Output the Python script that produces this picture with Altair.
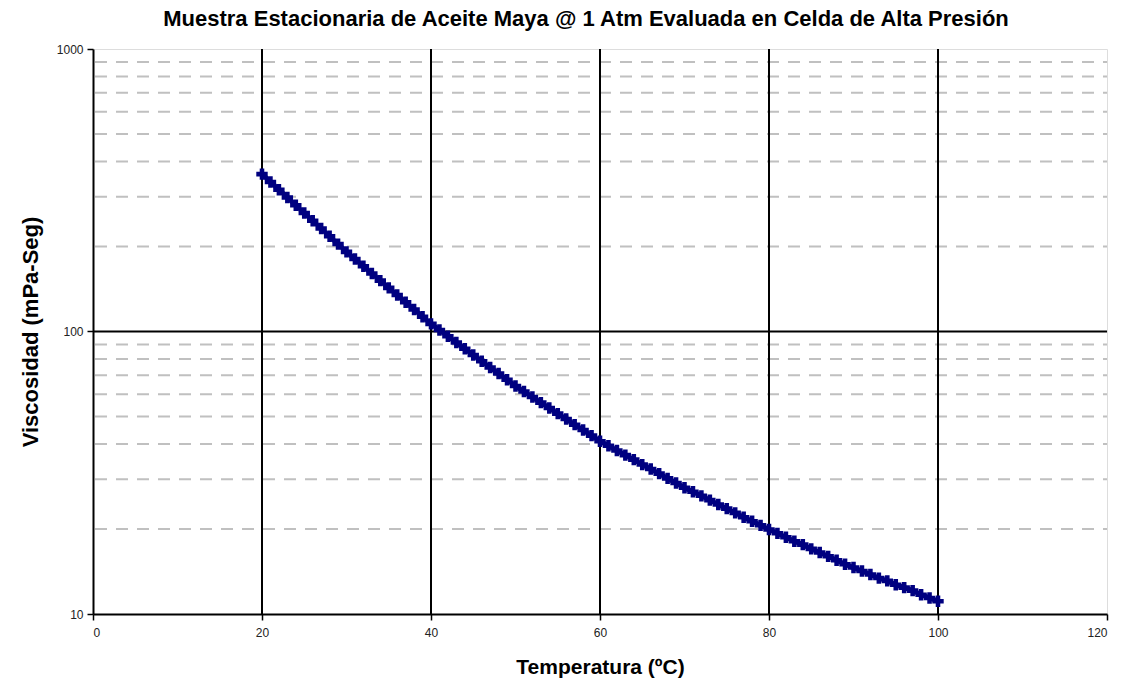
import altair as alt
import pandas as pd

temperature = list(range(20, 101))
viscosity = [
    360.6, 338.4, 317.7, 298.2, 279.9, 262.7, 246.6, 231.5, 217.3, 203.9,
    191.4, 180.5, 170.2, 160.5, 151.4, 142.7, 134.6, 126.9, 119.7, 112.8,
    106.4, 101.2, 96.2, 91.4, 86.9, 82.6, 78.5, 74.6, 71.0, 67.5,
    64.1, 61.3, 58.6, 56.0, 53.6, 51.2, 49.0, 46.8, 44.8, 42.8,
    40.9, 39.4, 37.9, 36.5, 35.2, 33.8, 32.6, 31.4, 30.2, 29.1,
    28.0, 27.1, 26.2, 25.3, 24.4, 23.6, 22.8, 22.0, 21.3, 20.6,
    19.9, 19.3, 18.7, 18.1, 17.6, 17.0, 16.5, 16.0, 15.5, 15.0,
    14.6, 14.2, 13.8, 13.4, 13.1, 12.7, 12.4, 12.1, 11.7, 11.4,
    11.1,
]
x_ticks = [0, 20, 40, 60, 80, 100, 120]
x_major_grid = [20, 40, 60, 80, 100]
y_ticks = [10, 100, 1000]
y_major_grid = [100]
y_minor_grid = [20, 30, 40, 50, 60, 70, 80, 90, 200, 300, 400, 500, 600, 700, 800, 900]

title_text = "Muestra Estacionaria de Aceite Maya @ 1 Atm Evaluada en Celda de Alta Presión"
x_title = "Temperatura (ºC)"
y_title = "Viscosidad (mPa-Seg)"

df = pd.DataFrame({"T": temperature, "V": viscosity})
minor_df = pd.DataFrame({"v": y_minor_grid})
ymaj_df = pd.DataFrame({"v": y_major_grid})
xmaj_df = pd.DataFrame({"t": x_major_grid})

xscale = alt.Scale(domain=[0, 120], nice=False, zero=False)
yscale = alt.Scale(type="log", domain=[10, 1000], nice=False)

font = "Liberation Sans"

minor = alt.Chart(minor_df).mark_rule(color="#c0c0c0", strokeWidth=2, strokeDash=[12, 9]).encode(
    y=alt.Y("v:Q", scale=yscale,
            axis=alt.Axis(values=y_ticks, format="d", title=y_title, grid=False,
                          domainColor="black", domainWidth=2, tickColor="black", tickWidth=1.5,
                          tickSize=6, labelFont="Liberation Sans", labelFontSize=12,
                          labelColor="#222222", labelPadding=4,
                          titleFont=font, titleFontSize=22, titleFontWeight="bold",
                          titleColor="black", titlePadding=14)),
    x=alt.value(2), x2=alt.value(1014),
)

ymaj = alt.Chart(ymaj_df).mark_rule(color="black", strokeWidth=2).encode(
    y=alt.Y("v:Q", scale=yscale), x=alt.value(0), x2=alt.value(1014)
)

xmaj = alt.Chart(xmaj_df).mark_rule(color="black", strokeWidth=2).encode(
    x=alt.X("t:Q", scale=xscale,
            axis=alt.Axis(values=x_ticks, title=x_title, grid=False,
                          domainColor="black", domainWidth=2, tickColor="black", tickWidth=1.5,
                          tickSize=6, labelFont="Liberation Sans", labelFontSize=12,
                          labelColor="#222222", labelPadding=7,
                          titleFont=font, titleFontSize=21, titleFontWeight="bold",
                          titleColor="black", titlePadding=18)),
    y=alt.value(0), y2=alt.value(565),
)

line = alt.Chart(df).mark_line(color="#000080", strokeWidth=5).encode(
    x=alt.X("T:Q", scale=xscale), y=alt.Y("V:Q", scale=yscale)
)
pts = alt.Chart(df).mark_point(shape="cross", filled=True, color="#000080", size=130, opacity=1).encode(
    x=alt.X("T:Q", scale=xscale), y=alt.Y("V:Q", scale=yscale)
)

chart = alt.layer(minor, ymaj, xmaj, line, pts).properties(
    width=1014, height=565,
    title=alt.TitleParams(title_text, font=font, fontSize=22, fontWeight="bold",
                          color="black", anchor="middle", offset=12, dx=-14),
    autosize=alt.AutoSizeParams(type="none"),
    padding={"left": 93, "top": 49, "right": 22, "bottom": 77},
).configure_view(stroke="#808080", strokeWidth=1.5).configure(background="white")

chart.save("out.html", embed_options={"renderer": "svg", "actions": False})
